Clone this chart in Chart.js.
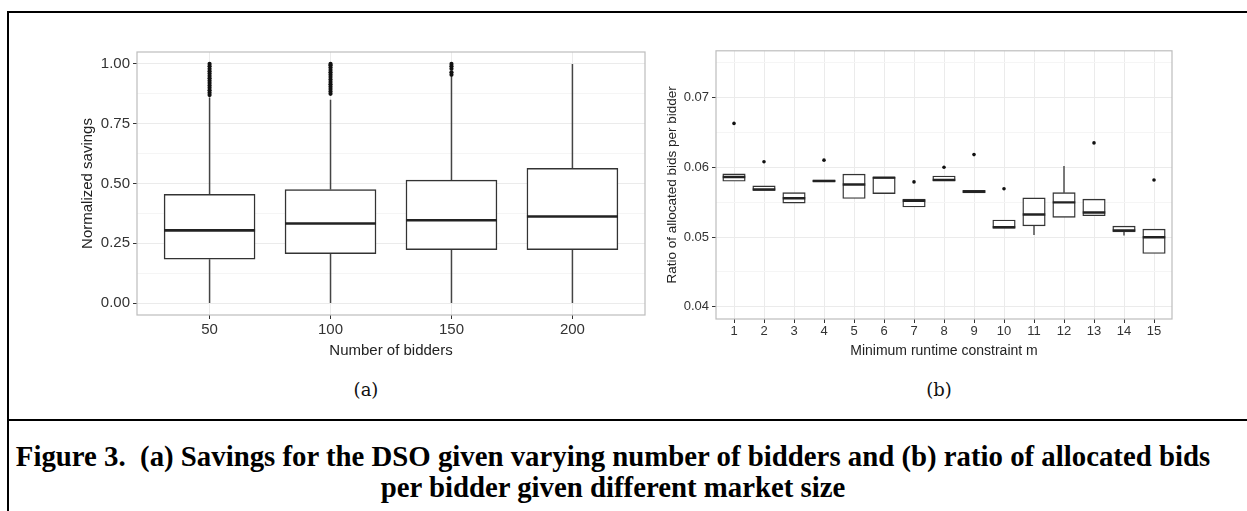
<!DOCTYPE html>
<html>
<head>
<meta charset="utf-8">
<script src="https://cdn.jsdelivr.net/npm/chart.js@4.4.0/dist/chart.umd.min.js"></script>
<style>
  body { margin:0; background:#fff; width:1247px; height:511px; position:relative; overflow:hidden; }
  .line { position:absolute; background:#000; }
  .wrap { position:absolute; }
  .sub { position:absolute; width:200px; text-align:center; font-family:'DejaVu Serif',serif; font-size:18px; color:#111; line-height:20px; }
  .caption { position:absolute; left:8px; right:29px; top:441px; text-align:center;
    font-family:'Liberation Serif','Times New Roman',serif; font-weight:bold; font-size:28.8px; line-height:31px; color:#000; }
</style>
</head>
<body>
<div class="line" style="left:7px;top:11px;width:1240px;height:2px"></div>
<div class="line" style="left:7px;top:11px;width:2px;height:500px"></div>
<div class="line" style="left:7px;top:419px;width:1240px;height:2px"></div>

<div class="wrap" style="left:79px;top:40px;width:571px;height:320px"><canvas id="chartA"></canvas></div>
<div class="wrap" style="left:664px;top:40px;width:513px;height:320px"><canvas id="chartB"></canvas></div>

<div class="sub" style="left:266px;top:380px">(a)</div>
<div class="sub" style="left:839px;top:380px">(b)</div>

<div class="caption">Figure 3.&nbsp; (a) Savings for the DSO given varying number of bidders and (b) ratio of allocated bids<br>per bidder given different market size</div>

<script>
// (a) normalized savings by number of bidders
const bidderLabels = ['50', '100', '150', '200']
const savLo  = [0, 0, 0, 0]
const savQ1  = [0.183, 0.206, 0.223, 0.223]
const savMed = [0.304, 0.333, 0.346, 0.362]
const savQ3  = [0.455, 0.475, 0.514, 0.563]
const savHi  = [0.86, 0.85, 0.95, 1.0]
const savOut = [
  [0.87, 0.88, 0.89, 0.90, 0.91, 0.92, 0.93, 0.94, 0.95, 0.96, 0.97, 0.98, 0.99, 1.0],
  [0.875, 0.885, 0.895, 0.905, 0.915, 0.925, 0.935, 0.945, 0.955, 0.965, 0.975, 0.985, 0.995, 1.0],
  [0.955, 0.965, 0.98, 0.99, 1.0],
  []
]
const savMajor = [0, 0.25, 0.5, 0.75, 1.0]
const savMinor = [0.125, 0.375, 0.625, 0.875]

// (b) ratio of allocated bids per bidder by minimum runtime constraint
const mLabels  = ['1','2','3','4','5','6','7','8','9','10','11','12','13','14','15']
const ratioLo  = [0.05802, 0.05671, 0.05489, 0.05795, 0.05555, 0.05625, 0.05433, 0.05811, 0.05634, 0.05125, 0.05032, 0.05284, 0.05307, 0.05022, 0.04766]
const ratioQ1  = [0.05802, 0.05671, 0.05489, 0.05795, 0.05555, 0.05625, 0.05433, 0.05811, 0.05634, 0.05125, 0.05162, 0.05284, 0.05307, 0.05074, 0.04766]
const ratioMed = [0.05863, 0.05685, 0.05559, 0.05807, 0.05755, 0.05855, 0.05522, 0.05821, 0.05653, 0.05144, 0.05326, 0.05499, 0.05354, 0.05097, 0.04999]
const ratioQ3  = [0.05909, 0.05737, 0.05639, 0.05820, 0.05905, 0.05859, 0.05545, 0.05877, 0.05671, 0.05246, 0.05564, 0.05639, 0.05545, 0.05158, 0.05116]
const ratioHi  = [0.05909, 0.05737, 0.05639, 0.05820, 0.05905, 0.05859, 0.05545, 0.05877, 0.05671, 0.05246, 0.05564, 0.06021, 0.05545, 0.05158, 0.05116]
const ratioOut = [[0.06633], [0.06083], [], [0.06105], [], [], [0.05793], [0.06003], [0.06185], [0.05695], [], [], [0.06353], [], [0.05821]]
const ratioMajor = [0.04, 0.05, 0.06, 0.07]
const ratioMinor = [0.045, 0.055, 0.065, 0.075]

const INK = '#333333'

// whiskers (line with gaps), box (floating bar), median (line marker), outliers (dots)
function boxDatasets(lo, q1, med, q3, hi, out, w, lw, medW, dotR) {
  const whisk = []
  lo.forEach((v, i) => {
    whisk.push({x:i+1, y:v}, {x:i+1, y:q1[i]}, {x:i+1, y:null})
    whisk.push({x:i+1, y:q3[i]}, {x:i+1, y:hi[i]}, {x:i+1, y:null})
  })
  const dots = []
  out.forEach((arr, i) => arr.forEach(v => dots.push({x:i+1, y:v})))
  return [
    { type:'line', data:whisk, borderColor:'#444', borderWidth:lw, pointRadius:0, spanGaps:false, order:4 },
    { type:'bar', data:q1.map((v,i) => ({x:i+1, y:[v, q3[i]]})), backgroundColor:'#fff', borderColor:INK,
      borderWidth:lw, borderSkipped:false, barThickness:w, grouped:false, order:3 },
    { type:'scatter', data:med.map((v,i) => ({x:i+1, y:v})), pointStyle:'line', pointRadius:w/2, pointHoverRadius:w/2,
      borderColor:'#222', borderWidth:medW, order:2 },
    { type:'scatter', data:dots, pointStyle:'circle', pointRadius:dotR, pointHoverRadius:dotR,
      backgroundColor:'#111', borderWidth:0, order:1 }
  ]
}

const panelBorder = {
  id:'panelBorder',
  afterDatasetsDraw(chart) {
    const a = chart.chartArea, ctx = chart.ctx
    ctx.save()
    ctx.strokeStyle = '#BDBDBD'
    ctx.lineWidth = 1.2
    ctx.strokeRect(a.left, a.top, a.right - a.left, a.bottom - a.top)
    ctx.restore()
  }
}

function makeOpts(o) {
  const isMajor = v => o.major.some(m => Math.abs(m - v) < 1e-9)
  return {
    responsive:true, maintainAspectRatio:false, animation:false,
    layout:{ autoPadding:false, padding:{ top:o.padTop, right:5, left:0, bottom:0 } },
    plugins:{ legend:{display:false}, tooltip:{enabled:false} },
    scales:{
      x:{
        type:'linear', min:0.4, max:o.labels.length + 0.6, offset:false,
        afterBuildTicks: s => { s.ticks = o.labels.map((_, i) => ({value:i+1})) },
        afterFit: s => { s.height = o.xH },
        ticks:{ autoSkip:false, maxRotation:0, padding:o.xPad, color:INK,
          font:{family:'Liberation Sans', size:o.tickSize}, callback: v => o.labels[v-1] },
        grid:{ offset:false, color:'#EBEBEB', lineWidth:1, tickColor:INK, tickLength:o.tickLen },
        border:{ display:false },
        title:{ display:true, text:o.xTitle, color:'#222', padding:0, font:{family:'Liberation Sans', size:o.xTitleSize} }
      },
      y:{
        min:o.yMin, max:o.yMax,
        afterBuildTicks: s => { s.ticks = [...o.major, ...o.minor].sort((a,b) => a-b).map(v => ({value:v})) },
        afterFit: s => { s.width = o.yW },
        ticks:{ autoSkip:false, padding:3, color:INK, font:{family:'Liberation Sans', size:o.tickSize},
          callback: v => isMajor(v) ? v.toFixed(2) : '' },
        grid:{ color: c => isMajor(c.tick.value) ? '#EBEBEB' : '#F5F5F5', lineWidth:1,
          tickColor: c => isMajor(c.tick.value) ? INK : 'rgba(0,0,0,0)', tickLength:o.tickLen },
        border:{ display:false },
        title:{ display:true, text:o.yTitle, color:'#222', padding:0, font:{family:'Liberation Sans', size:o.yTitleSize} }
      }
    }
  }
}

new Chart(document.getElementById('chartA'), {
  type:'bar',
  data:{ datasets: boxDatasets(savLo, savQ1, savMed, savQ3, savHi, savOut, 91, 1.5, 2.6, 2.1) },
  options: makeOpts({ labels:bidderLabels, major:savMajor, minor:savMinor, yMin:-0.05, yMax:1.05,
    xTitle:'Number of bidders', yTitle:'Normalized savings', tickSize:15, xTitleSize:15, yTitleSize:15,
    padTop:7, xH:45, yW:58, xPad:2, tickLen:4 }),
  plugins:[panelBorder]
})

new Chart(document.getElementById('chartB'), {
  type:'bar',
  data:{ datasets: boxDatasets(ratioLo, ratioQ1, ratioMed, ratioQ3, ratioHi, ratioOut, 22.5, 1.4, 2.4, 1.8) },
  options: makeOpts({ labels:mLabels, major:ratioMajor, minor:ratioMinor, yMin:0.03825, yMax:0.07675,
    xTitle:'Minimum runtime constraint m', yTitle:'Ratio of allocated bids per bidder', tickSize:13, xTitleSize:14, yTitleSize:13.5,
    padTop:4, xH:41, yW:52, xPad:1, tickLen:4 }),
  plugins:[panelBorder]
})
</script>
</body>
</html>
